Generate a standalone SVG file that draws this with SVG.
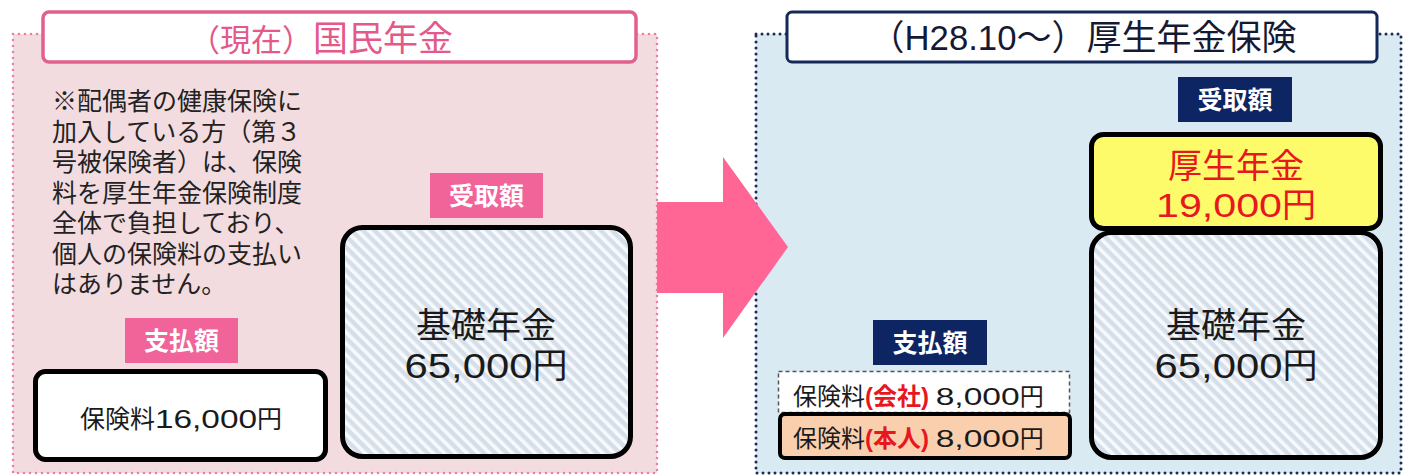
<svg xmlns="http://www.w3.org/2000/svg" width="1411" height="476" viewBox="0 0 1411 476">
<style>
text{font-family:'Liberation Sans','Noto Sans CJK JP',sans-serif;}
.num{font-family:'Liberation Sans','Noto Sans CJK JP',sans-serif;}
.panelL{fill:#f2dcdf;stroke:#e87fa0;stroke-width:2.6;stroke-dasharray:0 6;stroke-linecap:round;}
.panelR{fill:#d9eaf3;stroke:#1c2a55;stroke-width:3;stroke-dasharray:0 6;stroke-linecap:round;}
.thick{stroke:#000;stroke-width:5;}
.hatch{fill:url(#hatch);stroke:#000;stroke-width:5;}
.lblP{fill:#f0649a;}
.lblN{fill:#0d2562;}
.lbltxt{fill:#fff;font-weight:bold;font-size:25px;text-anchor:middle;}
.big{font-size:35px;text-anchor:middle;fill:#1a1a1a;}
.note{font-size:25px;fill:#222;}
.red{fill:#e8161d;font-weight:bold;}
</style>
<defs>
<pattern id="hatch" width="8" height="8" patternUnits="userSpaceOnUse" patternTransform="rotate(-45)">
<rect width="8" height="8" fill="#d5dfe9"/>
<rect x="0" y="0" width="3.6" height="8" fill="#f7f9fc"/>
</pattern>
</defs>
<rect width="1411" height="476" fill="#ffffff"/>

<g id="panel-left">
<rect class="panelL" x="13" y="34" width="644" height="439"/>
<rect x="43" y="12" width="593" height="50" rx="6" fill="#fff" stroke="#e2608c" stroke-width="3.5"/>
<text x="321" y="51" text-anchor="middle" fill="#e4588a"><tspan font-size="31">（現在）</tspan><tspan font-size="35">国民年金</tspan></text>
</g>

<g id="note-left">
<text class="note" x="52" y="110">※配偶者の健康保険に</text>
<text class="note" x="52" y="140.5">加入している方（第３</text>
<text class="note" x="52" y="171">号被保険者）は、保険</text>
<text class="note" x="52" y="201.5">料を厚生年金保険制度</text>
<text class="note" x="52" y="232">全体で負担しており、</text>
<text class="note" x="52" y="262.5">個人の保険料の支払い</text>
<text class="note" x="52" y="293">はありません。</text>
</g>

<g id="label-receive-left">
<rect class="lblP" x="430" y="173" width="113" height="45"/>
<text class="lbltxt" x="486.5" y="205">受取額</text>
</g>

<g id="basic-left">
<rect class="hatch" x="342.5" y="227.5" width="288" height="229" rx="20"/>
<text class="big" x="486" y="338">基礎年金</text>
<text class="big" x="486" y="378"><tspan class="num" textLength="128" lengthAdjust="spacingAndGlyphs">65,000</tspan>円</text>
</g>

<g id="label-pay-left">
<rect class="lblP" x="125" y="318" width="113" height="45"/>
<text class="lbltxt" x="181.5" y="350">支払額</text>
</g>

<g id="pay-left">
<rect x="35.5" y="371.5" width="290" height="88" rx="10" fill="#fff" class="thick"/>
<text x="80" y="428" font-size="25" fill="#1a1a1a">保険料<tspan class="num" textLength="102" lengthAdjust="spacingAndGlyphs">16,000</tspan>円</text>
</g>

<g id="panel-right">
<rect class="panelR" x="756" y="34" width="645" height="439"/>
<rect x="787" y="12" width="590" height="50" rx="5" fill="#fff" stroke="#15285a" stroke-width="3"/>
<text x="1083" y="50" font-size="35" text-anchor="middle" fill="#141a33">（<tspan class="num" textLength="112" lengthAdjust="spacingAndGlyphs">H28.10</tspan>～）厚生年金保険</text>
</g>

<g id="label-receive-right">
<rect class="lblN" x="1178" y="77" width="114" height="45"/>
<text class="lbltxt" x="1235" y="109">受取額</text>
</g>

<g id="kosei-right">
<rect x="1091.5" y="134.5" width="289" height="94" rx="12" fill="#fdfb6a" class="thick"/>
<text x="1236" y="178" font-size="34" text-anchor="middle" fill="#e8161d">厚生年金</text>
<text x="1236" y="217" font-size="34" text-anchor="middle" fill="#e8161d"><tspan class="num" textLength="126" lengthAdjust="spacingAndGlyphs">19,000</tspan>円</text>
</g>

<g id="basic-right">
<rect class="hatch" x="1091.5" y="232.5" width="289" height="225" rx="20"/>
<text class="big" x="1236" y="338">基礎年金</text>
<text class="big" x="1236" y="378"><tspan class="num" textLength="128" lengthAdjust="spacingAndGlyphs">65,000</tspan>円</text>
</g>

<g id="label-pay-right">
<rect class="lblN" x="873" y="320" width="114" height="45"/>
<text class="lbltxt" x="930" y="352">支払額</text>
</g>

<g id="pay-company">
<rect x="778.5" y="371.5" width="291" height="41" fill="#fff" stroke="#555" stroke-width="1.5" stroke-dasharray="4 3"/>
<text x="793" y="405" font-size="24" fill="#1a1a1a">保険料<tspan class="red">(会社)</tspan> <tspan class="num" textLength="84" lengthAdjust="spacingAndGlyphs">8,000</tspan>円</text>
</g>

<g id="pay-self">
<rect x="780" y="414" width="290" height="44" rx="5" fill="#f9cfae" stroke="#000" stroke-width="4"/>
<text x="793" y="447" font-size="24" fill="#1a1a1a">保険料<tspan class="red">(本人)</tspan> <tspan class="num" textLength="84" lengthAdjust="spacingAndGlyphs">8,000</tspan>円</text>
</g>

<g id="connectors">
<polygon points="657,202 723,202 723,157 788,247 723,338 723,293 657,293" fill="#ff6695"/>
</g>
</svg>
